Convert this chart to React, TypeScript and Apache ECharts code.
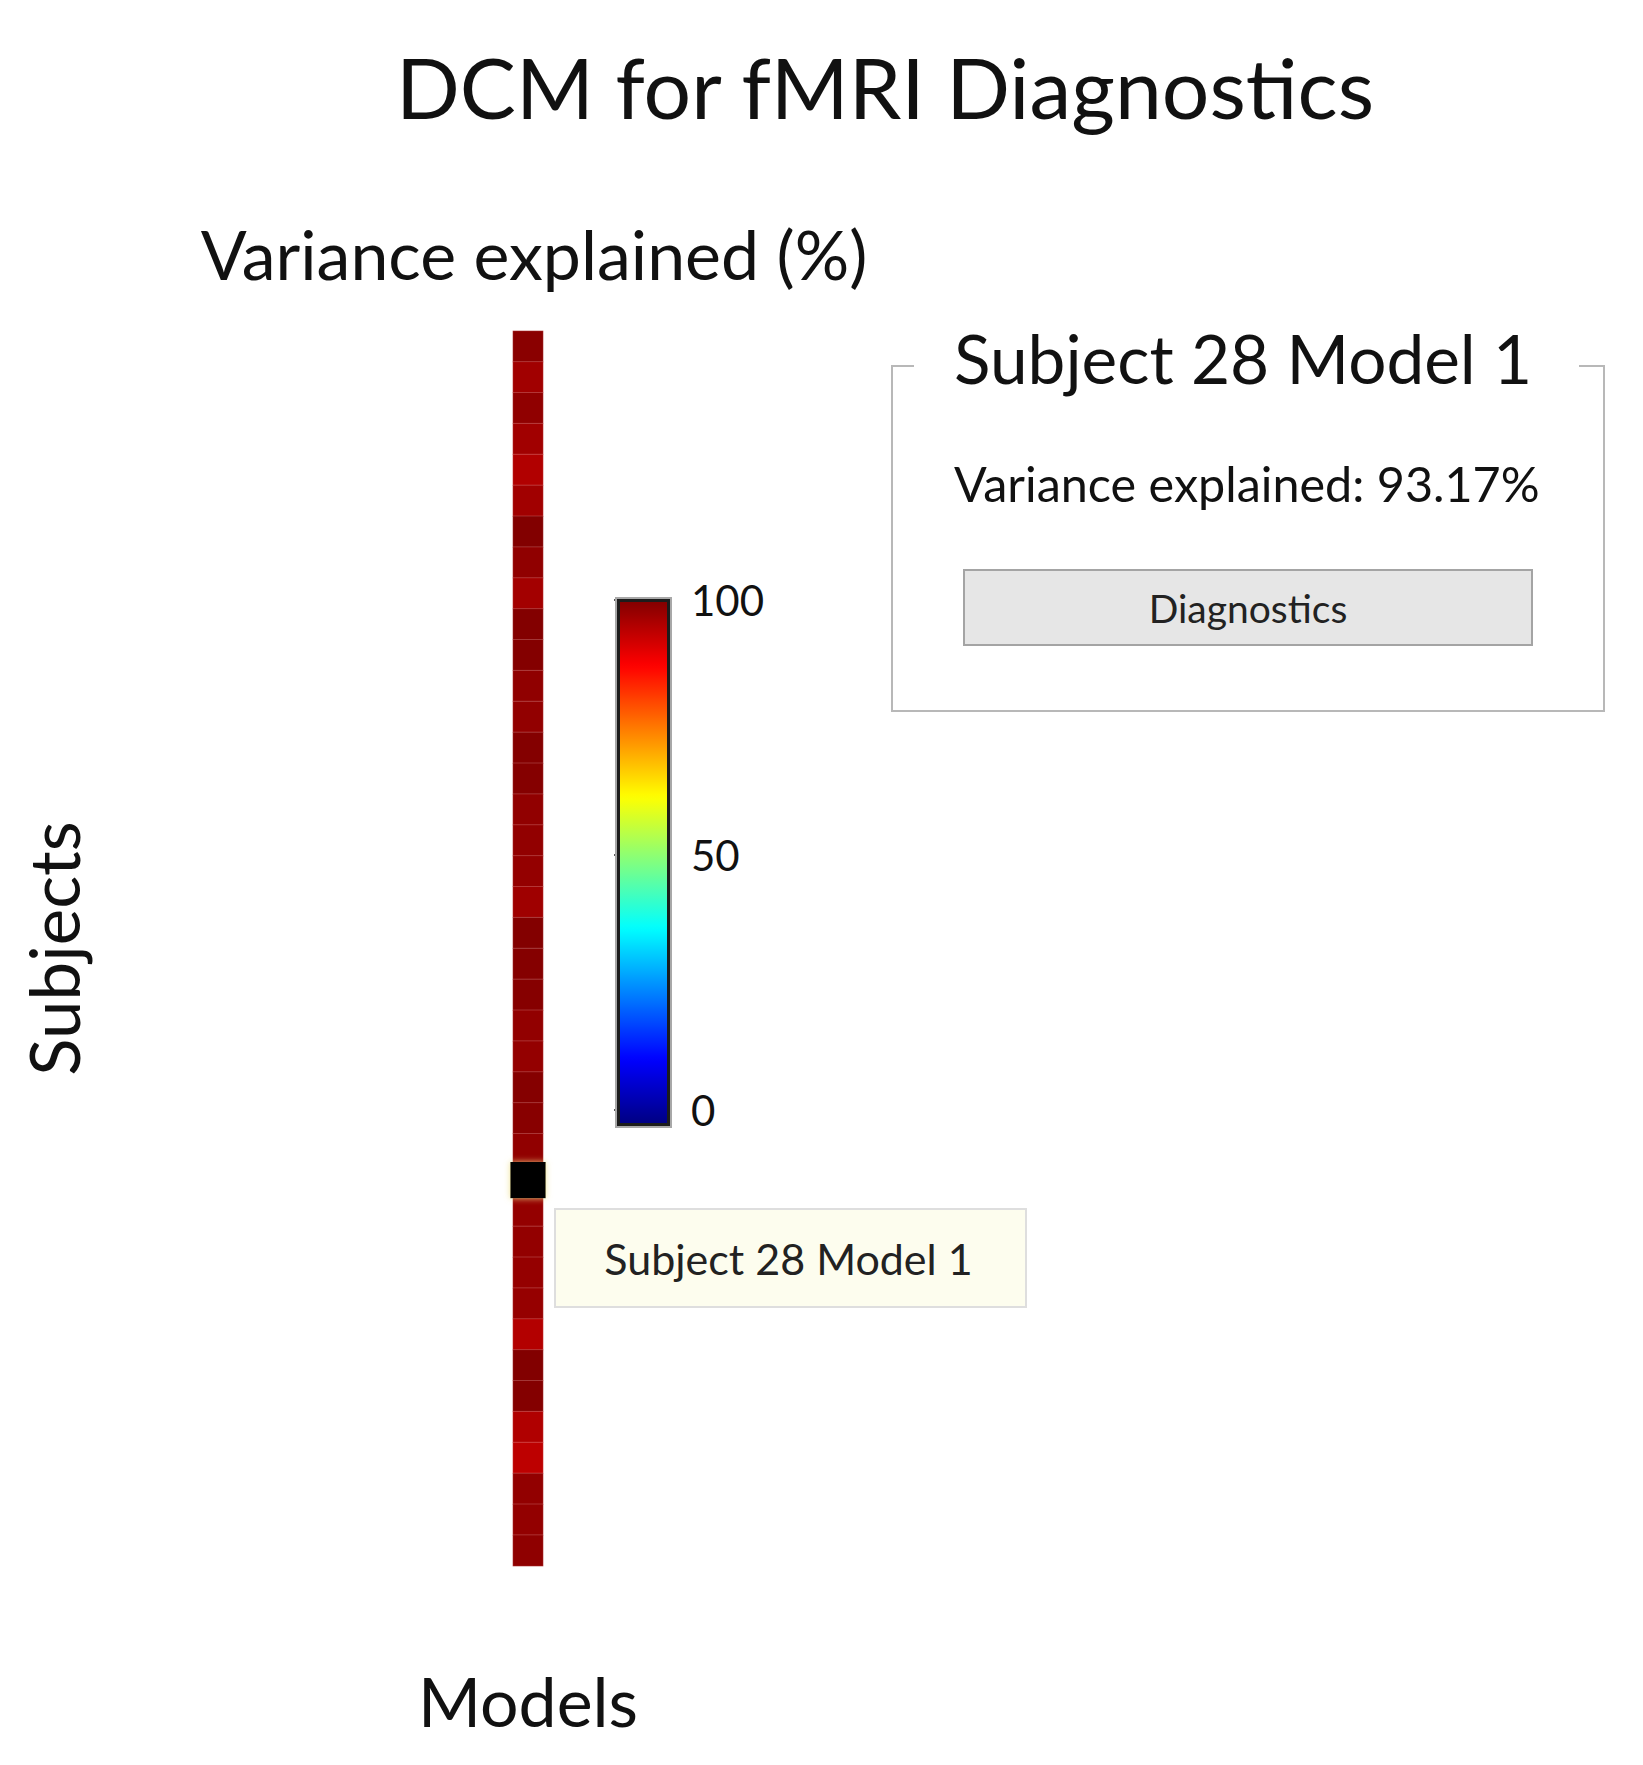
import React, { useEffect, useRef } from "react";
import * as echarts from "echarts";

// ---------- data ----------
const MODELS = ["Model 1"];
const SUBJECTS = Array.from({ length: 40 }, (_, i) => `Subject ${i + 1}`);
// variance explained (%) per subject, model 1
const VARIANCE = [
  99.0, 96.8, 98.4, 96.8, 95.2, 96.8, 99.8, 98.4, 96.6, 99.7,
  99.6, 98.4, 98.2, 99.6, 99.5, 98.3, 98.2, 98.0, 96.9, 99.7,
  99.5, 99.4, 98.2, 98.0, 99.5, 99.2, 98.3, 93.17, 98.0, 98.1,
  97.9, 97.8, 95.0, 99.8, 99.6, 95.3, 94.0, 98.2, 98.1, 98.5,
];
const SELECTED_SUBJECT = 28;
const SELECTED_MODEL = 1;
const COLOR_MIN = 0;
const COLOR_MAX = 100;
const COLOR_INTERVAL = 50;
const JET = [
  "#000080", "#0000FF", "#0080FF", "#00FFFF", "#80FF80",
  "#FFFF00", "#FF8000", "#FF0000", "#800000",
];

const TITLE = "DCM for fMRI Diagnostics";
const SUBTITLE = "Variance explained (%)";
const FONT = "Lato";
const INK = "#111111";

export default function App() {
  const ref = useRef<HTMLDivElement>(null);

  useEffect(() => {
    if (!ref.current) return;
    const chart = echarts.init(ref.current, null, { renderer: "svg" });

    const heatData = VARIANCE.map((v, i) => [0, i, v]);
    const selIdx = SELECTED_SUBJECT - 1;
    const selLabel = `Subject ${SELECTED_SUBJECT} Model ${SELECTED_MODEL}`;

    const option: any = {
      animation: false,
      backgroundColor: "#ffffff",
      textStyle: { fontFamily: FONT },
      grid: [
        { left: 505, top: 323, width: 30, height: 1235 },
        { left: 610, top: 592, width: 51, height: 510 },
      ],
      xAxis: [
        {
          type: "category",
          gridIndex: 0,
          data: MODELS,
          name: "Models",
          nameLocation: "middle",
          nameGap: 100,
          nameTextStyle: { fontSize: 68, color: INK, fontFamily: FONT },
          axisLine: { show: false },
          axisTick: { show: false },
          axisLabel: { show: false },
          splitLine: { show: false },
        },
        { type: "value", gridIndex: 1, show: false, min: 0, max: 1 },
      ],
      yAxis: [
        {
          type: "category",
          gridIndex: 0,
          data: SUBJECTS,
          inverse: true,
          name: "Subjects",
          nameLocation: "middle",
          nameRotate: 90,
          nameGap: 425,
          nameTextStyle: { fontSize: 69, color: INK, fontFamily: FONT },
          axisLine: { show: false },
          axisTick: { show: false },
          axisLabel: { show: false },
          splitLine: { show: false },
        },
        {
          type: "value",
          gridIndex: 1,
          position: "right",
          min: COLOR_MIN,
          max: COLOR_MAX,
          interval: COLOR_INTERVAL,
          axisLine: { show: false },
          axisTick: {
            show: true,
            inside: true,
            length: 4,
            lineStyle: { color: "#222", width: 1.5 },
          },
          splitLine: { show: false },
          axisLabel: { fontSize: 42, color: INK, margin: 22, fontFamily: FONT },
        },
      ],
      visualMap: [
        {
          type: "continuous",
          seriesIndex: 0,
          min: COLOR_MIN,
          max: COLOR_MAX,
          calculable: false,
          hoverLink: false,
          orient: "vertical",
          left: 610,
          top: 592,
          padding: 0,
          itemWidth: 51,
          itemHeight: 525,
          inRange: { color: JET },
        },
        {
          type: "continuous",
          seriesIndex: 1,
          show: false,
          min: COLOR_MIN,
          max: COLOR_MAX,
          inRange: { color: ["#000000", "#000000"] },
        },
      ],
      series: [
        {
          type: "heatmap",
          xAxisIndex: 0,
          yAxisIndex: 0,
          data: heatData,
          itemStyle: { borderColor: "rgba(255,210,210,0.22)", borderWidth: 1 },
          emphasis: { disabled: true },
        },
        {
          type: "heatmap",
          xAxisIndex: 0,
          yAxisIndex: 0,
          z: 3,
          data: [[SELECTED_MODEL - 1, selIdx, VARIANCE[selIdx]]],
          itemStyle: {
            color: "#000000",
            borderColor: "#000000",
            borderWidth: 5,
            shadowBlur: 6,
            shadowColor: "rgba(240,225,140,0.9)",
          },
          emphasis: { disabled: true },
        },
      ],
    };
    chart.setOption(option);

    let cx = 520;
    let cy = 1173;
    try {
      const pt = chart.convertToPixel({ xAxisIndex: 0, yAxisIndex: 0 } as any, [
        SELECTED_MODEL - 1,
        selIdx,
      ]) as number[];
      if (pt && isFinite(pt[0]) && isFinite(pt[1])) {
        cx = pt[0];
        cy = pt[1];
      }
    } catch (e) {
      /* keep defaults */
    }

    const tipX = cx + 27;
    const tipY = cy + 29;
    const tipW = 471;
    const tipH = 98;

    chart.setOption({
      graphic: [
        {
          type: "text",
          x: 877,
          y: 78,
          style: {
            text: TITLE,
            fontSize: 84,
            fontFamily: FONT,
            fill: INK,
            align: "center",
            verticalAlign: "middle",
          },
        },
        {
          type: "text",
          x: 526,
          y: 245,
          style: {
            text: SUBTITLE,
            fontSize: 68,
            fontFamily: FONT,
            fill: INK,
            align: "center",
            verticalAlign: "middle",
          },
        },
        // colour bar frame
        {
          type: "rect",
          z: 100,
          shape: { x: 608, y: 590, width: 55, height: 529 },
          style: { fill: "none", stroke: "#a8a8a8", lineWidth: 2 },
        },
        {
          type: "rect",
          z: 101,
          shape: { x: 610.5, y: 592.5, width: 50, height: 524 },
          style: { fill: "none", stroke: "#1c1c1c", lineWidth: 3 },
        },
        // info group box
        {
          type: "polyline",
          shape: {
            points: [
              [906, 358],
              [884, 358],
              [884, 703],
              [1596, 703],
              [1596, 358],
              [1571, 358],
            ],
          },
          style: { fill: "none", stroke: "#b8b8b8", lineWidth: 2 },
        },
        {
          type: "text",
          x: 946,
          y: 349,
          style: {
            text: selLabel,
            fontSize: 67.5,
            fontFamily: FONT,
            fill: INK,
            align: "left",
            verticalAlign: "middle",
          },
        },
        {
          type: "text",
          x: 946,
          y: 475,
          style: {
            text: `Variance explained: ${VARIANCE[selIdx].toFixed(2)}%`,
            fontSize: 48.5,
            fontFamily: FONT,
            fill: INK,
            align: "left",
            verticalAlign: "middle",
          },
        },
        {
          type: "rect",
          shape: { x: 956, y: 562, width: 568, height: 75 },
          style: { fill: "#e6e6e6", stroke: "#a4a4a4", lineWidth: 2 },
        },
        {
          type: "text",
          x: 1240,
          y: 600,
          style: {
            text: "Diagnostics",
            fontSize: 39,
            fontFamily: FONT,
            fill: "#222222",
            align: "center",
            verticalAlign: "middle",
          },
        },
        // tooltip-like label next to selected cell
        {
          type: "rect",
          shape: { x: tipX, y: tipY, width: tipW, height: tipH },
          style: { fill: "#fdfdee", stroke: "#dedede", lineWidth: 2 },
        },
        {
          type: "text",
          x: tipX + tipW / 2 - 2,
          y: tipY + tipH / 2,
          style: {
            text: selLabel,
            fontSize: 43,
            fontFamily: FONT,
            fill: "#222222",
            align: "center",
            verticalAlign: "middle",
          },
        },
      ],
    });

    return () => chart.dispose();
  }, []);

  return <div ref={ref} style={{ width: 1627, height: 1749 }} />;
}
